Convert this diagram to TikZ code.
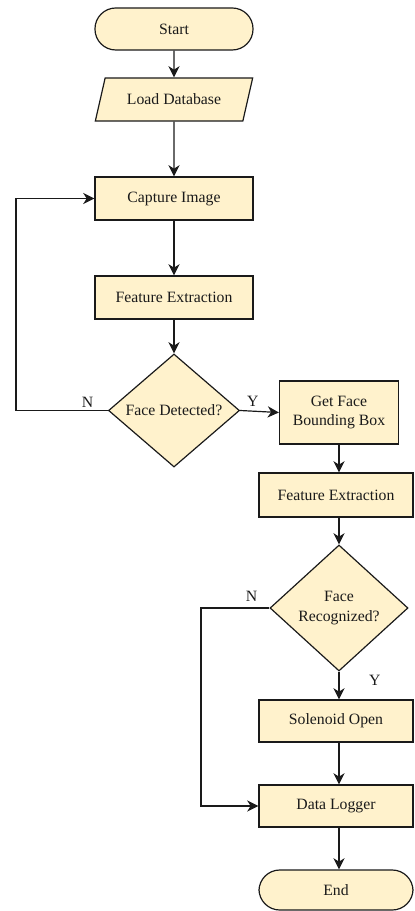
\documentclass[tikz,border=0pt]{standalone}
\usepackage{fontspec}
\setmainfont{Liberation Serif}
\usetikzlibrary{arrows.meta,shapes.geometric}
\definecolor{cream}{HTML}{FFF2CC}
\definecolor{ink}{HTML}{1A1A1A}
\tikzset{
  every node/.style={font=\fontsize{11.2}{14}\selectfont, text=ink, inner sep=2pt},
  term/.style={draw=ink, line width=0.85pt, fill=cream, rounded corners=0.52cm,
               minimum width=3.95cm, minimum height=1.05cm, align=center},
  io/.style={trapezium, trapezium left angle=67, trapezium right angle=113,
             trapezium stretches=true, draw=ink, line width=0.85pt, fill=cream,
             minimum width=3.95cm, minimum height=1.075cm},
  proc/.style={draw=ink, line width=0.85pt, fill=cream, minimum height=1.075cm, align=center},
  dec/.style={diamond, draw=ink, line width=0.85pt, fill=cream, inner sep=0pt, align=center},
  arr/.style={-{Stealth[length=8pt,width=8pt,inset=2.5pt]}, draw=ink, line width=0.85pt},
  lab/.style={inner sep=1pt},
}
\begin{document}
\begin{tikzpicture}[x=0.025cm, y=-0.025cm]
\useasboundingbox (0,0) rectangle (414,911);
% ---- grid (px) ----------------------------------------------------------------
\def\xL{174} \def\xR{336} \def\xS{339}
\def\rS{29} \def\rD{99.5} \def\rC{198.5} \def\rF{297.5} \def\rQ{410.5}
\def\rG{495} \def\rK{608} \def\rO{721} \def\rL{806} \def\rE{890}

% ---- left column --------------------------------------------------------------
\node[term] (start)   at (\xL, \rS) {Start};
\node[io]   (load)    at (\xL, \rD) {Load Database};
\node[proc, minimum width=3.95cm] (capture) at (\xL, \rC) {Capture Image};
\node[proc, minimum width=3.95cm] (feat)    at (\xL, \rF) {Feature Extraction};
\node[dec, minimum width=3.275cm, minimum height=2.825cm] (detect) at (\xL, \rQ) {Face Detected?};

% ---- right column -------------------------------------------------------------
\node[proc, minimum width=2.975cm, minimum height=1.575cm] (bbox) at (\xS, 412.5) {Get Face\\Bounding Box};
\node[proc, minimum width=3.85cm, minimum height=1.1cm] (feat2) at (\xR, \rG) {Feature Extraction};
\node[dec, minimum width=3.45cm, minimum height=3.15cm] (recog) at (\xS, \rK) {Face\\Recognized?};
\node[proc, minimum width=3.85cm, minimum height=1.05cm] (sol)    at (\xR, \rO) {Solenoid Open};
\node[proc, minimum width=3.85cm, minimum height=1.05cm] (logger) at (\xR, \rL) {Data Logger};
\node[term, minimum width=3.85cm, minimum height=1.0cm] (end) at (\xR, \rE) {End};

% ---- loop lines ---------------------------------------------------------------
\coordinate (loopA) at (16, \rC);
\coordinate (loopB) at (201, \rL);
\coordinate (spine) at (\xS, 0);

% ---- edges --------------------------------------------------------------------
\draw[arr] (start) -- (load);
\draw[arr] (load) -- (capture);
\draw[arr] (capture) -- (feat);
\draw[arr] (feat) -- (detect);
\draw[arr] (detect.west) -| node[lab, above, pos=0.11, yshift=1pt] {N} (loopA) -- (capture.west);
\draw[arr] (detect.east) -- node[lab, above, pos=0.33, yshift=2pt] {Y} (bbox.west);
\draw[arr] (bbox.south) -- (bbox.south |- feat2.north);
\draw[arr] (feat2.south -| spine) -- (recog.north);
\draw[arr] (recog.south) -- node[lab, right, pos=0.3, xshift=20pt] {Y} (recog.south |- sol.north);
\draw[arr] (recog.west) -| node[lab, above, pos=0.13, yshift=3pt] {N} (loopB) -- (logger.west);
\draw[arr] (sol.south -| spine) -- (logger.north -| spine);
\draw[arr] (logger.south -| spine) -- (end.north -| spine);
\end{tikzpicture}
\end{document}
